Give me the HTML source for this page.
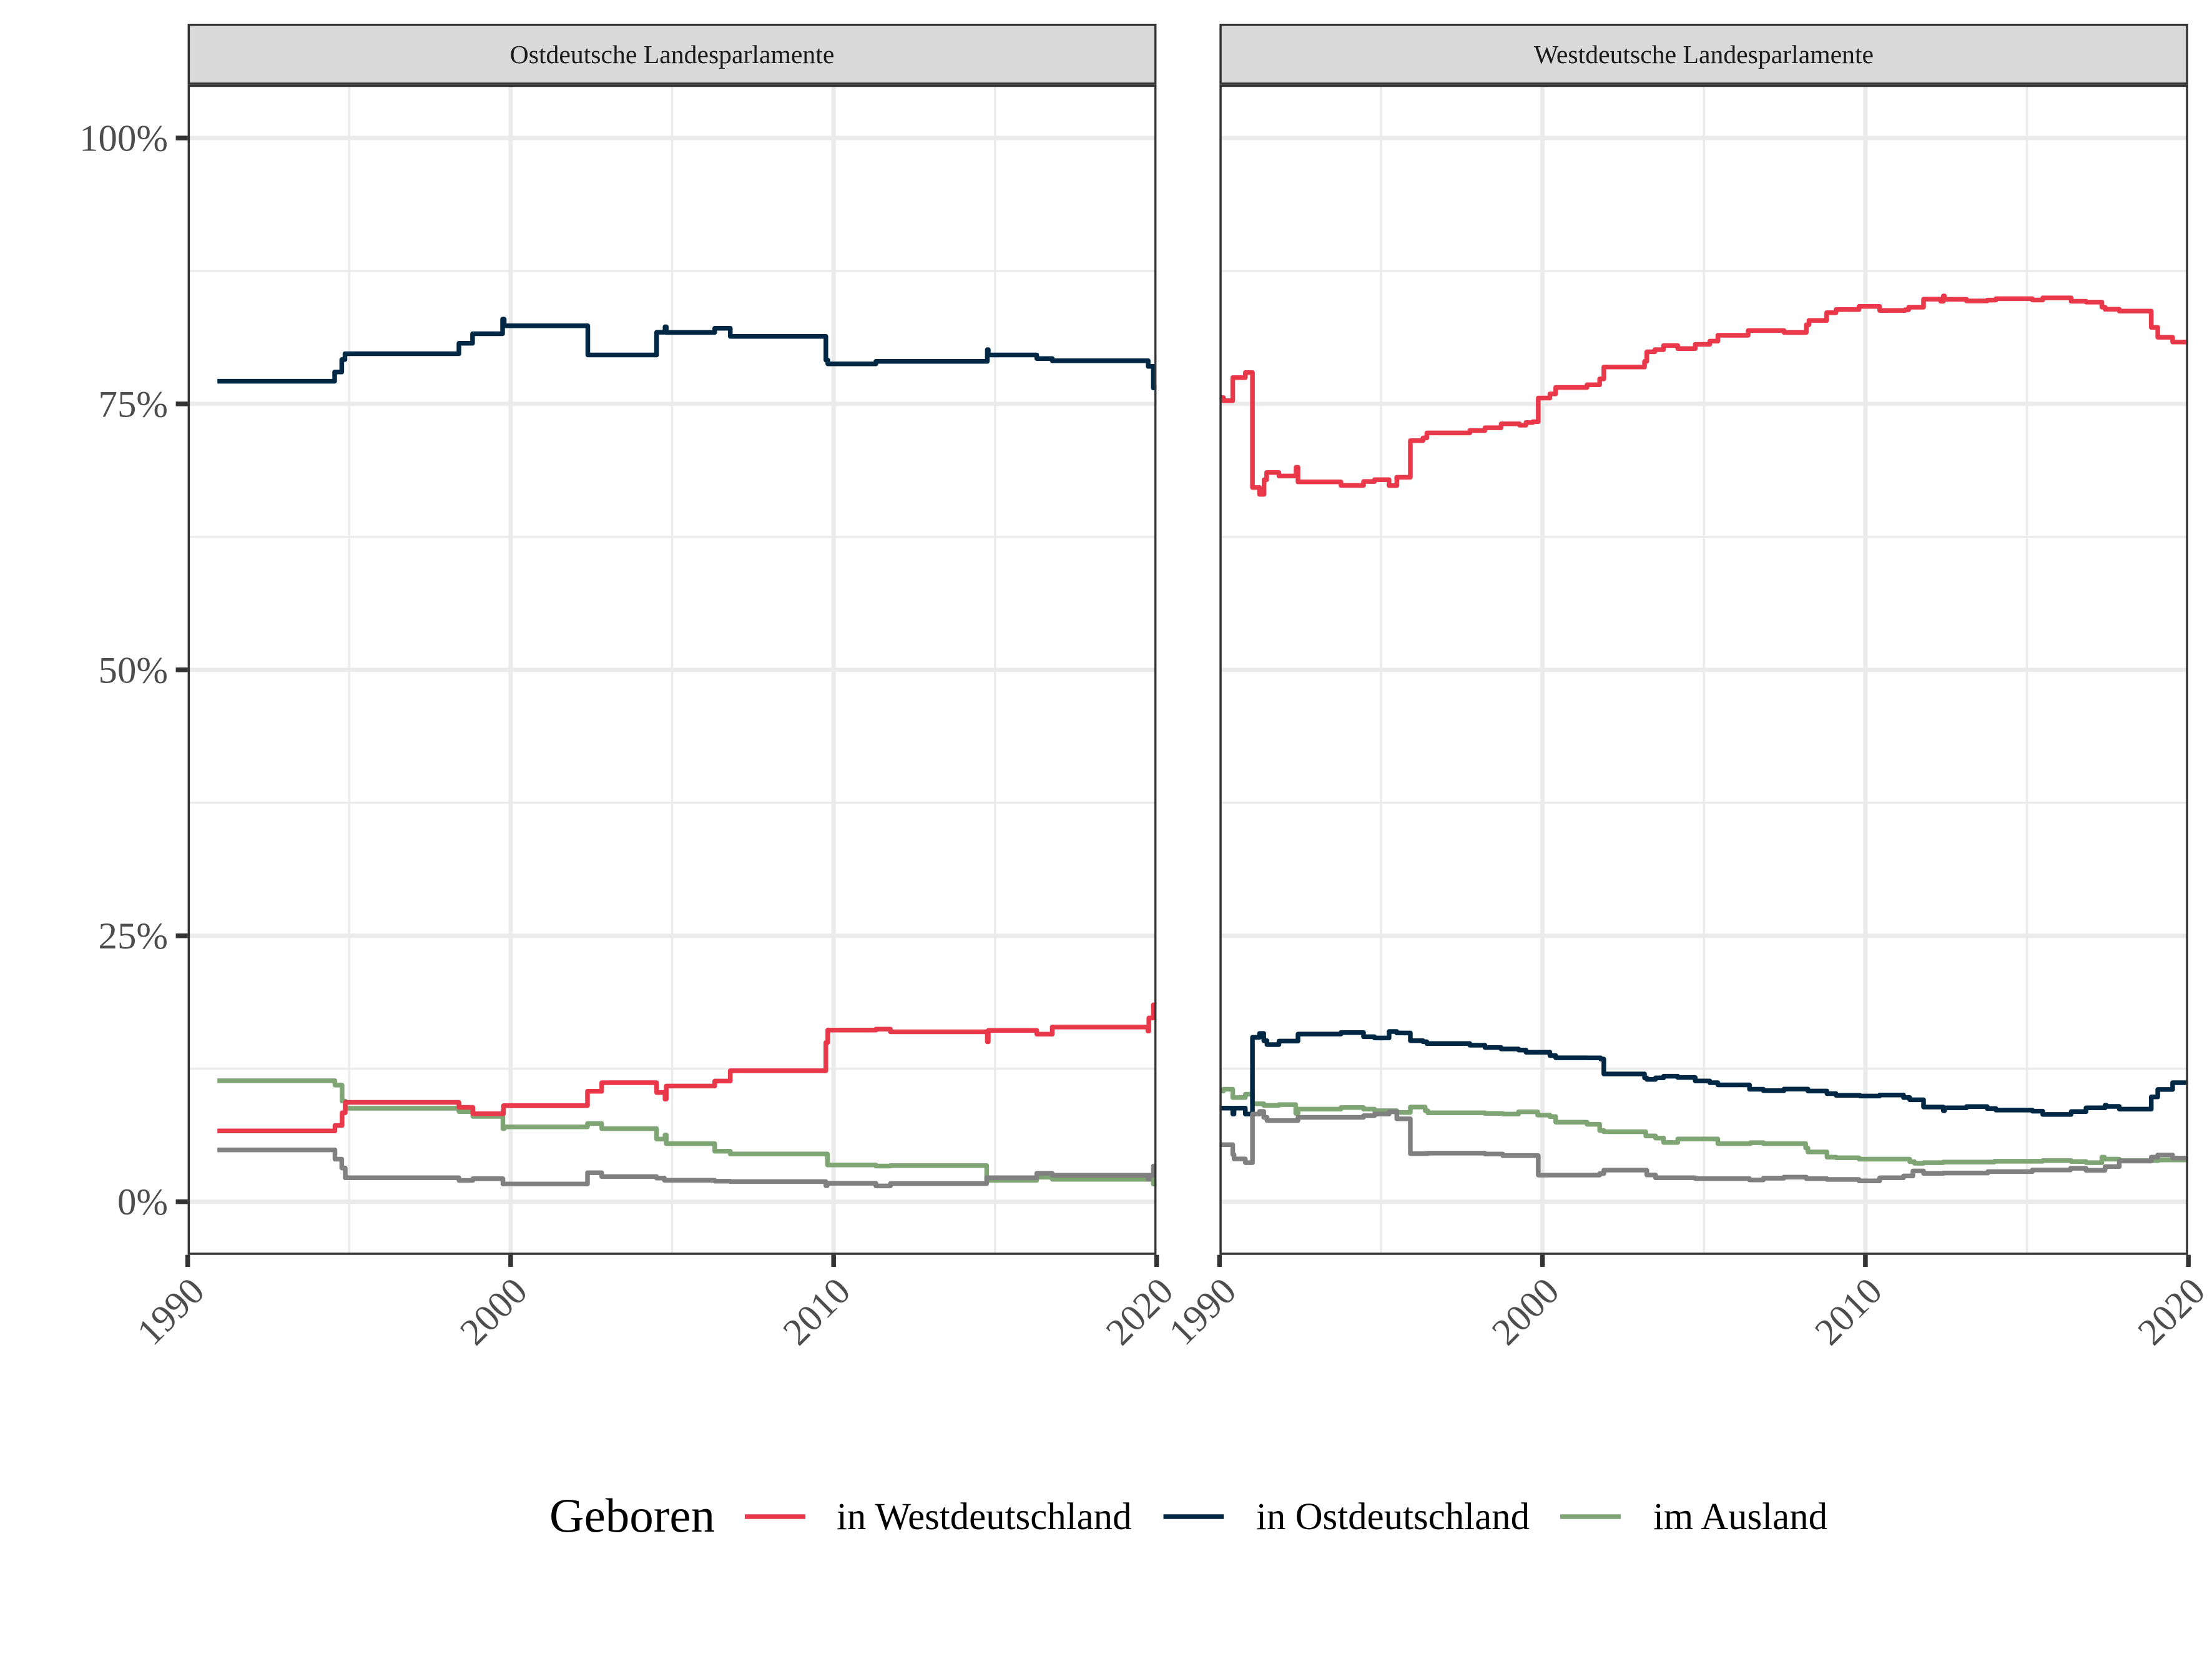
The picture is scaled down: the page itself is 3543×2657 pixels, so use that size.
<!DOCTYPE html>
<html lang="de">
<head>
<meta charset="utf-8">
<title>Geburtsort der Abgeordneten in den Landesparlamenten</title>
<style>
html,body{margin:0;padding:0;background:#fff;}
svg{display:block;font-family:"Liberation Serif",serif;}
</style>
</head>
<body>
<svg id="chart" xmlns="http://www.w3.org/2000/svg" width="3543" height="2657" viewBox="0 0 3543 2657">
  <defs>
    <clipPath id="clip-panel-ost"><rect x="300.6" y="135.7" width="1551.8" height="1874"/></clipPath>
    <clipPath id="clip-panel-west"><rect x="1953.3" y="135.7" width="1551.5" height="1874"/></clipPath>
    <clipPath id="clip-strip-ost"><rect x="300.6" y="38" width="1551.8" height="97.7"/></clipPath>
    <clipPath id="clip-strip-west"><rect x="1953.3" y="38" width="1551.5" height="97.7"/></clipPath>
  </defs>
  <rect x="0" y="0" width="3543" height="2657" fill="#fff"/>

  <g id="panel-ost"></g>
  <g id="panel-west"></g>

  <g>
    <rect x="300.6" y="38" width="1551.8" height="97.7" fill="#D9D9D9" stroke="#333333" stroke-width="7" clip-path="url(#clip-strip-ost)"/>
    <text x="1076.5" y="101" font-size="41.7" fill="#1A1A1A" text-anchor="middle">Ostdeutsche Landesparlamente</text>
  </g>
  <g>
    <rect x="1953.3" y="38" width="1551.5" height="97.7" fill="#D9D9D9" stroke="#333333" stroke-width="7" clip-path="url(#clip-strip-west)"/>
    <text x="2729" y="101" font-size="41.7" fill="#1A1A1A" text-anchor="middle">Westdeutsche Landesparlamente</text>
  </g>

  <g>
    <text x="880" y="2453" font-size="77" fill="#000">Geboren</text>
    <line x1="1193" x2="1290" y1="2429" y2="2429" stroke="#E8384A" stroke-width="7.5"/>
    <text x="1340" y="2449" font-size="60.9" fill="#000">in Westdeutschland</text>
    <line x1="1863.5" x2="1960" y1="2429" y2="2429" stroke="#002845" stroke-width="7.5"/>
    <text x="2012" y="2449" font-size="60.9" fill="#000">in Ostdeutschland</text>
    <line x1="2499" x2="2596" y1="2429" y2="2429" stroke="#7FA575" stroke-width="7.5"/>
    <text x="2648" y="2449" font-size="60.9" fill="#000">im Ausland</text>
  </g>
</svg>

<script>
// ---- tick data ----
var xMajorYears = [1990, 2000, 2010, 2020];
var xMinorYears = [1995, 2005, 2015];
var xTickLabels = ['1990', '2000', '2010', '2020'];
var yMajorValues = [0, 25, 50, 75, 100];
var yMinorValues = [12.5, 37.5, 62.5, 87.5];
var yTickLabels = ['0%', '25%', '50%', '75%', '100%'];

// ---- Ostdeutsche Landesparlamente ----
var ostWestYears = [1990.92,1994.56,1994.78,1994.88,1998.40,1998.83,1999.78,2002.38,2002.82,2004.52,2004.78,2004.82,2006.32,2006.80,2009.76,2009.82,2011.31,2011.76,2014.76,2014.79,2016.29,2016.77,2019.73,2019.76,2019.90,2020.1];
var ostWestValues = [6.65,7.17,8.36,9.34,8.87,8.27,9.03,10.38,11.19,10.26,9.64,10.87,11.34,12.31,14.96,16.13,16.22,15.97,15.03,16.1,15.75,16.42,16.04,17.27,18.5,18.5];

var ostOstYears = [1990.92,1994.55,1994.77,1994.87,1998.40,1998.82,1999.75,1999.80,2002.39,2004.52,2004.78,2004.82,2006.32,2006.80,2009.76,2009.82,2011.31,2014.76,2014.79,2016.29,2016.77,2019.74,2019.90,2020.1];
var ostOstValues = [77.13,78.0,79.17,79.72,80.7,81.6,82.97,82.35,79.6,81.74,82.25,81.72,82.11,81.35,79.12,78.77,79.0,80.1,79.6,79.27,79.06,78.53,76.5,76.5];

var ostAuslandYears = [1990.92,1994.56,1994.78,1994.88,1998.40,1998.83,1999.76,1999.80,2002.38,2002.82,2004.52,2004.78,2004.82,2006.32,2006.80,2009.81,2011.31,2011.76,2014.74,2016.29,2016.77,2019.90,2020.1];
var ostAuslandValues = [11.37,10.96,9.46,8.78,8.47,8.02,6.87,7.03,7.35,6.87,5.88,6.27,5.46,4.74,4.49,3.46,3.35,3.39,2.02,2.31,2.11,1.66,1.66];

var ostUnbekanntYears = [1990.92,1994.56,1994.77,1994.88,1998.40,1998.83,1999.76,2002.38,2002.82,2004.52,2004.76,2006.32,2006.80,2009.76,2009.80,2011.31,2011.76,2014.74,2016.29,2016.77,2019.74,2019.78,2019.90,2020.1];
var ostUnbekanntValues = [4.87,4.0,3.17,2.25,2.0,2.16,1.66,2.72,2.36,2.22,2.02,1.93,1.89,1.5,1.73,1.48,1.71,2.25,2.67,2.49,2.1,2.49,3.35,3.35];

// ---- Westdeutsche Landesparlamente ----
var westWestYears = [1990.0,1990.12,1990.41,1990.80,1991.02,1991.24,1991.38,1991.46,1991.84,1992.37,1992.43,1993.76,1994.46,1994.80,1995.25,1995.49,1995.91,1996.30,1996.42,1997.75,1998.22,1998.72,1999.29,1999.49,1999.70,1999.87,2000.23,2000.41,2001.38,2001.77,2001.90,2003.16,2003.23,2003.48,2003.75,2004.19,2004.73,2005.18,2005.43,2006.37,2007.48,2008.17,2008.25,2008.80,2009.09,2009.80,2010.44,2011.23,2011.34,2011.80,2012.33,2012.41,2012.45,2013.13,2013.77,2014.04,2015.17,2015.49,2016.37,2016.83,2017.32,2017.42,2017.86,2018.85,2019.05,2019.51,2020.1];
var westWestValues = [75.6,75.3,77.48,77.95,67.14,66.5,67.87,68.55,68.22,69.04,67.67,67.34,67.71,67.88,67.32,68.1,71.55,71.8,72.27,72.5,72.76,73.13,73.0,73.25,73.33,75.55,75.94,76.55,76.8,77.35,78.47,79.0,79.9,80.1,80.49,80.2,80.6,80.9,81.45,81.9,81.72,82.44,82.84,83.58,83.87,84.17,83.78,83.85,84.09,84.85,84.65,85.15,84.83,84.68,84.76,84.89,84.77,84.97,84.65,84.57,84.1,83.9,83.72,82.2,81.27,80.82,80.82];

var westOstYears = [1990.0,1990.41,1990.45,1990.80,1991.02,1991.24,1991.37,1991.47,1991.84,1992.43,1993.76,1994.46,1994.80,1995.25,1995.49,1995.91,1996.30,1996.42,1997.75,1998.22,1998.72,1999.26,1999.49,2000.23,2000.41,2001.38,2001.80,2001.90,2003.16,2003.23,2003.50,2003.75,2004.19,2004.73,2005.18,2005.43,2006.41,2006.84,2007.48,2008.22,2008.81,2009.09,2009.83,2010.44,2011.18,2011.37,2011.80,2012.41,2012.45,2013.13,2013.77,2014.04,2015.17,2015.49,2016.37,2016.83,2017.42,2017.46,2017.86,2018.85,2019.05,2019.51,2020.1];
var westOstValues = [8.8,8.24,8.8,8.24,15.45,15.82,15.14,14.77,15.1,15.76,15.9,15.51,15.39,16.0,15.86,15.14,15.04,14.87,14.71,14.5,14.36,14.26,14.05,13.74,13.53,13.52,13.41,12.01,11.64,11.5,11.64,11.8,11.68,11.35,11.19,10.98,10.57,10.44,10.59,10.4,10.16,10.0,9.93,10.03,9.79,9.58,8.9,8.55,8.82,8.94,8.76,8.61,8.51,8.2,8.47,8.82,9.07,8.96,8.7,9.85,10.55,11.19,11.19];

var westAuslandYears = [1990.0,1990.12,1990.41,1990.80,1991.02,1991.37,1991.84,1992.36,1992.43,1993.76,1994.46,1994.80,1995.49,1995.91,1996.37,1996.45,1997.75,1998.22,1998.77,1999.26,1999.85,2000.23,2000.41,2001.38,2001.77,2001.90,2003.20,2003.50,2003.75,2004.19,2005.43,2006.44,2006.84,2008.15,2008.22,2008.81,2009.09,2009.80,2011.37,2011.52,2011.80,2012.41,2013.99,2015.49,2016.37,2016.83,2017.32,2017.40,2017.86,2019.07,2020.1];
var westAuslandValues = [10.4,10.57,9.79,10.1,9.21,9.05,9.13,8.3,8.7,8.86,8.7,8.55,8.39,8.9,8.55,8.35,8.35,8.3,8.24,8.45,8.14,8.0,7.48,7.28,6.7,6.58,6.18,5.98,5.57,5.9,5.46,5.55,5.46,5.05,4.68,4.19,4.13,4.0,3.76,3.61,3.67,3.73,3.8,3.86,3.78,3.67,4.19,4.0,3.86,3.92,3.92];

var westUnbekanntYears = [1990.0,1990.41,1990.45,1990.80,1991.02,1991.24,1991.37,1991.47,1992.43,1994.46,1994.80,1995.25,1995.49,1995.91,1996.45,1998.22,1998.77,1999.87,2001.77,2001.90,2003.23,2003.50,2004.73,2006.41,2006.84,2007.48,2008.17,2008.81,2009.80,2010.44,2011.18,2011.47,2011.80,2012.41,2013.79,2015.17,2016.35,2016.83,2017.42,2017.86,2018.85,2019.05,2019.51,2020.1];
var westUnbekanntValues = [5.36,4.43,4.02,3.67,8.24,8.49,7.93,7.63,7.93,8.08,8.24,8.45,7.79,4.52,4.56,4.48,4.33,2.5,2.64,2.97,2.52,2.25,2.17,2.05,2.21,2.31,2.17,2.09,1.96,2.25,2.42,2.89,2.66,2.7,2.83,2.99,3.14,2.95,3.3,3.82,4.19,4.39,4.1,4.1];

// ---- layout ----
var SVG_NS = 'http://www.w3.org/2000/svg';
var plotTop = 135.7;
var plotBottom = 2009.7;
var yZeroPx = 1924.6;
var yPxPerPercent = 17.036;
var xPxPerYear = 51.73;
var lineColors = { west: '#E8384A', ost: '#002845', ausland: '#7FA575', unbekannt: '#808080' };

function yScale(v) {
  return yZeroPx - v * yPxPerPercent;
}
function makeXScale(left) {
  return function (year) {
    return left + (year - 1990) * xPxPerYear;
  };
}
function makeEl(tag, attrs, parent) {
  var el = document.createElementNS(SVG_NS, tag);
  for (var k in attrs) { el.setAttribute(k, attrs[k]); }
  parent.appendChild(el);
  return el;
}
function stepPath(years, values, xScale) {
  var d = '';
  for (var i = 0; i < years.length; i++) {
    var px = xScale(years[i]).toFixed(1);
    if (i === 0) {
      d += 'M' + px + ' ' + yScale(values[0]).toFixed(1);
    } else {
      d += 'H' + px + 'V' + yScale(values[i]).toFixed(1);
    }
  }
  return d;
}

function drawPanel(group, key, left, right, clipId, showYAxis, series) {
  var xScale = makeXScale(left);
  var rect = { x: left, y: plotTop, width: right - left, height: plotBottom - plotTop };

  // panel background
  var bg = makeEl('rect', { x: rect.x, y: rect.y, width: rect.width, height: rect.height, fill: '#fff' }, group);
  
  

  // grid
  var grid = makeEl('g', { 'clip-path': 'url(#' + clipId + ')', stroke: '#EBEBEB' }, group);
  
  
  yMinorValues.forEach(function (v) {
    var l = makeEl('line', { x1: left, x2: right, y1: yScale(v), y2: yScale(v), 'stroke-width': 3.5 }, grid);
    
    
  });
  xMinorYears.forEach(function (t) {
    var l = makeEl('line', { x1: xScale(t), x2: xScale(t), y1: plotTop, y2: plotBottom, 'stroke-width': 3.5 }, grid);
    
    
  });
  yMajorValues.forEach(function (v) {
    var l = makeEl('line', { x1: left, x2: right, y1: yScale(v), y2: yScale(v), 'stroke-width': 7 }, grid);
    
    
  });
  xMajorYears.forEach(function (t) {
    var l = makeEl('line', { x1: xScale(t), x2: xScale(t), y1: plotTop, y2: plotBottom, 'stroke-width': 7 }, grid);
    
    
  });

  // series
  var lines = makeEl('g', { 'clip-path': 'url(#' + clipId + ')', fill: 'none', 'stroke-width': 7.5, 'stroke-linejoin': 'round', 'stroke-linecap': 'butt' }, group);
  
  
  series.forEach(function (s) {
    var p = makeEl('path', { d: stepPath(s.years, s.values, xScale), stroke: lineColors[s.id] }, lines);
    
    
  });

  // border
  var border = makeEl('rect', { x: rect.x, y: rect.y, width: rect.width, height: rect.height, fill: 'none', stroke: '#333333', 'stroke-width': 7, 'clip-path': 'url(#' + clipId + ')' }, group);
  
  

  // x axis
  xMajorYears.forEach(function (t, i) {
    var tick = makeEl('line', { x1: xScale(t), x2: xScale(t), y1: plotBottom, y2: plotBottom + 19.3, stroke: '#333333', 'stroke-width': 7.5 }, group);
    
    
    var ax = xScale(t) + 30;
    var ay = 2071.5;
    var label = makeEl('text', { x: ax, y: ay, 'font-size': 60.8, fill: '#4D4D4D', 'text-anchor': 'end', transform: 'rotate(-45 ' + ax + ' ' + ay + ')' }, group);
    
    
    label.textContent = xTickLabels[i];
  });

  // y axis
  if (showYAxis) {
    yMajorValues.forEach(function (v, i) {
      var tick = makeEl('line', { x1: left - 19, x2: left, y1: yScale(v), y2: yScale(v), stroke: '#333333', 'stroke-width': 7.5 }, group);
      
      
      var label = makeEl('text', { x: 269, y: yScale(v) + 20.5, 'font-size': 60.8, fill: '#4D4D4D', 'text-anchor': 'end' }, group);
      
      
      label.textContent = yTickLabels[i];
    });
  }
}

drawPanel(document.getElementById('panel-ost'), 'ost', 300.6, 1852.4, 'clip-panel-ost', true, [
  { id: 'ausland', years: ostAuslandYears, values: ostAuslandValues },
  { id: 'west', years: ostWestYears, values: ostWestValues },
  { id: 'ost', years: ostOstYears, values: ostOstValues },
  { id: 'unbekannt', years: ostUnbekanntYears, values: ostUnbekanntValues }
]);
drawPanel(document.getElementById('panel-west'), 'west', 1953.3, 3504.8, 'clip-panel-west', false, [
  { id: 'ausland', years: westAuslandYears, values: westAuslandValues },
  { id: 'west', years: westWestYears, values: westWestValues },
  { id: 'ost', years: westOstYears, values: westOstValues },
  { id: 'unbekannt', years: westUnbekanntYears, values: westUnbekanntValues }
]);
</script>
</body>
</html>
